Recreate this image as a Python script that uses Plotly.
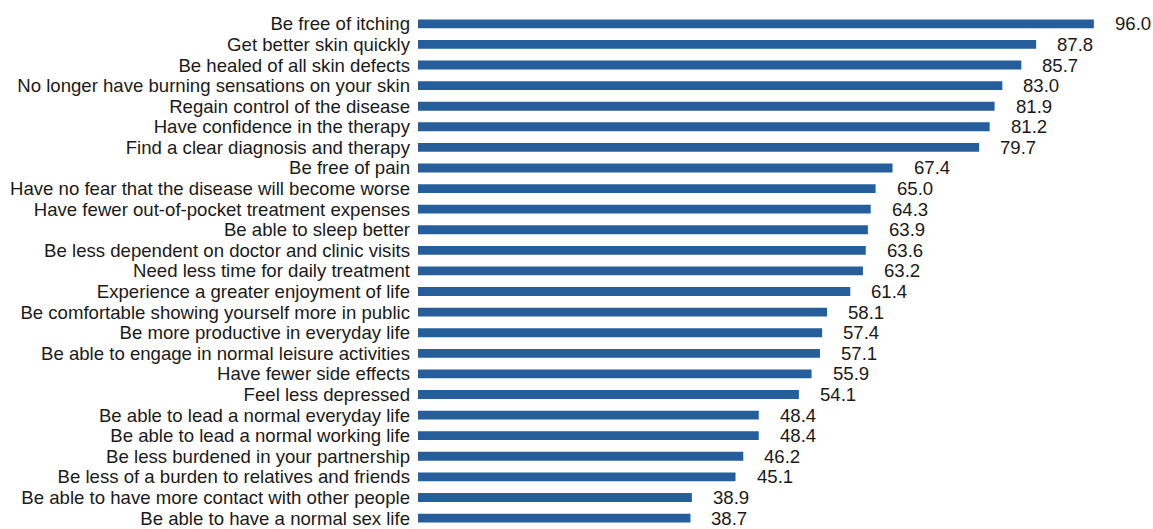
import plotly.graph_objects as go

categories = [
    "Be free of itching",
    "Get better skin quickly",
    "Be healed of all skin defects",
    "No longer have burning sensations on your skin",
    "Regain control of the disease",
    "Have confidence in the therapy",
    "Find a clear diagnosis and therapy",
    "Be free of pain",
    "Have no fear that the disease will become worse",
    "Have fewer out-of-pocket treatment expenses",
    "Be able to sleep better",
    "Be less dependent on doctor and clinic visits",
    "Need less time for daily treatment",
    "Experience a greater enjoyment of life",
    "Be comfortable showing yourself more in public",
    "Be more productive in everyday life",
    "Be able to engage in normal leisure activities",
    "Have fewer side effects",
    "Feel less depressed",
    "Be able to lead a normal everyday life",
    "Be able to lead a normal working life",
    "Be less burdened in your partnership",
    "Be less of a burden to relatives and friends",
    "Be able to have more contact with other people",
    "Be able to have a normal sex life",
]
values = [96.0, 87.8, 85.7, 83.0, 81.9, 81.2, 79.7, 67.4, 65.0, 64.3, 63.9, 63.6,
          63.2, 61.4, 58.1, 57.4, 57.1, 55.9, 54.1, 48.4, 48.4, 46.2, 45.1, 38.9, 38.7]

FONT = "Liberation Sans, Arial, sans-serif"
FS = 18.6

fig = go.Figure(go.Bar(
    x=values, y=categories, orientation="h",
    marker=dict(color="#255E9A", line=dict(width=0)),
    width=0.43,
    hoverinfo="x+y",
))

for c, v in zip(categories, values):
    fig.add_annotation(x=v, y=c, text=f"{v:.1f}", showarrow=False,
                       xanchor="left", yanchor="middle", xshift=19, yshift=0,
                       font=dict(size=FS, color="#1a1a1a", family=FONT))

n = len(categories)
fig.update_layout(
    width=1153, height=529,
    margin=dict(l=418, r=0, t=0, b=0),
    plot_bgcolor="white", paper_bgcolor="white",
    font=dict(family=FONT, size=FS, color="#1a1a1a"),
    showlegend=False,
    xaxis=dict(range=[0, 104.4], visible=False, showgrid=False, zeroline=False),
    yaxis=dict(range=[n - 1 + 0.337, -1.157], showgrid=False, zeroline=False,
               showline=False, ticks="", ticklabelstandoff=7,
               tickmode="array", tickvals=categories, ticktext=categories,
               tickfont=dict(size=FS, color="#1a1a1a", family=FONT)),
)

fig.write_html("out.html")
